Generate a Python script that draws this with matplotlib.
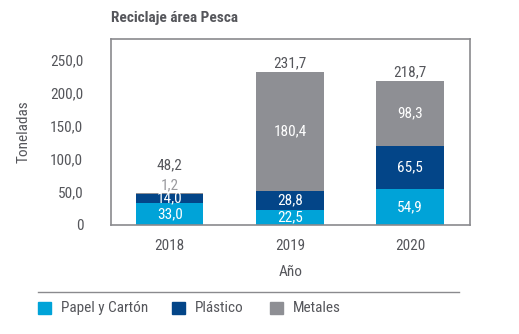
import numpy as np
import matplotlib.pyplot as plt
from matplotlib import font_manager

names = set(f.name for f in font_manager.fontManager.ttflist)
fams = [f for f in ['Roboto Condensed', 'Liberation Sans Narrow', 'Roboto'] if f in names]
plt.rcParams['font.family'] = fams + ['DejaVu Sans']

years = ['2018', '2019', '2020']
papel = [33.0, 22.5, 54.9]
plastico = [14.0, 28.8, 65.5]
metales = [1.2, 180.4, 98.3]
totales = [48.2, 231.7, 218.7]

c_papel = '#00a3d8'
c_plast = '#034588'
c_metal = '#8e8f94'
c_text = '#55565b'
c_frame = '#8a8a8e'

fig = plt.figure(figsize=(5.19, 3.34), dpi=100)
ax = fig.add_axes([111/519, 1-225/334, (470-111)/519, (225-39)/334])

x = np.arange(len(years))
w = 0.56
ax.bar(x, papel, w, color=c_papel)
ax.bar(x, plastico, w, bottom=papel, color=c_plast)
bot3 = np.array(papel) + np.array(plastico)
ax.bar(x, metales, w, bottom=bot3, color=c_metal)

def fmt(v):
    return f'{v:.1f}'.replace('.', ',')

fs = 11
for i in range(len(years)):
    ax.text(x[i], papel[i]/2, fmt(papel[i]), ha='center', va='center', color='white', fontsize=fs)
    ax.text(x[i], papel[i] + plastico[i]/2, fmt(plastico[i]), ha='center', va='center', color='white', fontsize=fs)
    if metales[i] > 20:
        ax.text(x[i], bot3[i] + metales[i]/2, fmt(metales[i]), ha='center', va='center', color='white', fontsize=fs)
    else:
        ax.text(x[i], bot3[i] + metales[i] + 12, fmt(metales[i]), ha='center', va='center', color='#9a9a9e', fontsize=fs)
    off = 43 if metales[i] <= 20 else 13
    ax.text(x[i], totales[i] + off, fmt(totales[i]), ha='center', va='center', color=c_text, fontsize=fs)

ax.set_xlim(-0.49, 2.5)
ax.set_ylim(0, 282)
ax.set_xticks(x)
ax.set_xticklabels(years)
yt = [0, 50, 100, 150, 200, 250]
ax.set_yticks(yt)
ax.set_yticklabels(['0'] + [fmt(v) for v in yt[1:]])
ax.tick_params(length=0, labelsize=fs, colors=c_text, pad=10)
ax.tick_params(axis='y', pad=20)
for s in ax.spines.values():
    s.set_color(c_frame)
    s.set_linewidth(1.2)

ax.set_ylabel('Toneladas', color=c_text, fontsize=fs, labelpad=14)
ax.set_xlabel('Año', color=c_text, fontsize=fs, labelpad=9)
fig.text(111/519, 1-18/334, 'Reciclaje área Pesca', color=c_text, fontsize=11,
         fontweight='bold', ha='left', va='center')

# legend line and entries
fig.add_artist(plt.Line2D([38/519, 459/519], [1-292/334, 1-292/334], color=c_frame, lw=1))
items = [('Papel y Cartón', c_papel, 38), ('Plástico', c_plast, 172), ('Metales', c_metal, 270)]
for lab, col, px in items:
    fig.patches.append(plt.Rectangle((px/519, 1-314/334), 13/519, 12/334,
                                     transform=fig.transFigure, color=col, figure=fig))
    fig.text((px+23)/519, 1-308/334, lab, color=c_text, fontsize=fs, ha='left', va='center')

fig.savefig('out.png', dpi=100)
